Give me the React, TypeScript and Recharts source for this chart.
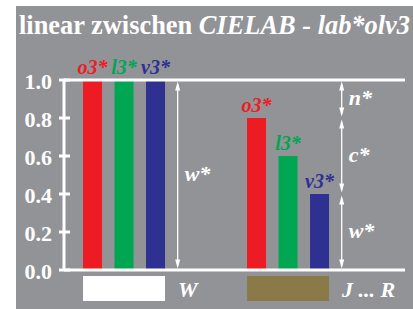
import React from 'react';
import { BarChart, Bar, XAxis, YAxis, ReferenceLine, LabelList } from 'recharts';

const SERIF = '"Liberation Serif", "Times New Roman", serif';

// groups: white and the colour row J ... R
const groups = ['W', 'J ... R'];
const swatchColors = ['#ffffff', '#8a7a47'];
const o3 = [1.0, 0.8];
const l3 = [1.0, 0.6];
const v3 = [1.0, 0.4];
const yTicks = [0, 0.2, 0.4, 0.6, 0.8, 1.0];

const series = [
  { key: 'o3', label: 'o3*', color: '#ed1c24' },
  { key: 'l3', label: 'l3*', color: '#00a651' },
  { key: 'v3', label: 'v3*', color: '#2e3192' },
];

const data = groups.map((name, i) => ({ pos: i, name, o3: o3[i], l3: l3[i], v3: v3[i] }));

// w*, c*, n* brackets next to each group
const arrows = [
  { pos: 0, lo: 0, hi: 1, label: 'w*' },
  { pos: 1, lo: 0, hi: v3[1], label: 'w*' },
  { pos: 1, lo: v3[1], hi: o3[1], label: 'c*' },
  { pos: 1, lo: o3[1], hi: 1, label: 'n*' },
];
const ARROW_OFFSET = 0.327;

const makeArrow = (label: string) => (p: any) => {
  const x = p.x1;
  const top = Math.min(p.y1, p.y2) + 1.5;
  const bot = Math.max(p.y1, p.y2) - 1.5;
  const h = 9;
  const w = 2.5;
  return (
    <g>
      <line x1={x} x2={x} y1={top + 3} y2={bot - 3} stroke="#fff" strokeWidth={1.3} />
      <polygon points={`${x},${top} ${x - w},${top + h} ${x + w},${top + h}`} fill="#fff" />
      <polygon points={`${x},${bot} ${x - w},${bot - h} ${x + w},${bot - h}`} fill="#fff" />
      <text x={x + 7} y={(top + bot) / 2 + 6} fill="#fff" fontSize={22} fontWeight="bold"
        fontStyle="italic" fontFamily={SERIF}>{label}</text>
    </g>
  );
};

const YTick = (p: any) => (
  <g>
    <line x1={p.x + 7} x2={p.x + 18} y1={p.y} y2={p.y} stroke="#fff" strokeWidth={3} />
    <text x={p.x} y={p.y + 9} textAnchor="end" fill="#fff" fontSize={22} fontWeight="bold"
      fontFamily={SERIF}>{Number(p.payload.value).toFixed(1)}</text>
  </g>
);

const XTick = (p: any) => {
  const i = p.payload.value;
  return (
    <g>
      <rect x={p.x - 41} y={p.y} width={82} height={25} fill={swatchColors[i]} />
      <text x={p.x + 54} y={p.y + 21} fill="#fff" fontSize={22} fontWeight="bold"
        fontStyle="italic" fontFamily={SERIF}>{groups[i]}</text>
    </g>
  );
};

export default function App() {
  return (
    <div style={{ position: 'absolute', left: 0, top: 0, width: 413, height: 309, background: '#fff' }}>
      <div style={{ position: 'absolute', left: 16, top: 6, right: 0, bottom: 0, background: '#929397' }} />
      <div style={{
        position: 'absolute', left: 19, top: 12, lineHeight: '26px', fontSize: 26.4, fontWeight: 'bold',
        color: '#fff', fontFamily: SERIF, whiteSpace: 'nowrap',
      }}>
        linear zwischen <i>CIELAB - lab*olv3</i>
      </div>
      <div style={{ position: 'absolute', left: 0, top: 0 }}>
        <BarChart width={413} height={309} data={data} barGap={12.5}
          margin={{ top: 80, right: 8, bottom: 0, left: 24 }}>
          <XAxis dataKey="pos" type="number" domain={[-0.366, 1.713]} allowDataOverflow ticks={[0, 1]}
            height={39} tickLine={false} tickSize={0} tickMargin={6} tick={<XTick />}
            axisLine={{ stroke: '#fff', strokeWidth: 3 }} />
          <YAxis domain={[0, 1]} ticks={yTicks} width={40} tickSize={5} tickMargin={7} tickLine={false}
            tick={<YTick />} axisLine={{ stroke: '#fff', strokeWidth: 3 }} />
          <ReferenceLine y={1} stroke="#fff" strokeWidth={3} />
          {series.map((s) => (
            <Bar key={s.key} dataKey={s.key} fill={s.color} barSize={19} isAnimationActive={false}>
              <LabelList dataKey={s.key} position="top" offset={6} formatter={() => s.label}
                fill={s.color} fontSize={20} fontWeight="bold" fontStyle="italic" fontFamily={SERIF} />
            </Bar>
          ))}
          {arrows.map((a, i) => (
            <ReferenceLine key={i}
              segment={[{ x: a.pos + ARROW_OFFSET, y: a.lo }, { x: a.pos + ARROW_OFFSET, y: a.hi }]}
              shape={makeArrow(a.label)} />
          ))}
        </BarChart>
      </div>
    </div>
  );
}
